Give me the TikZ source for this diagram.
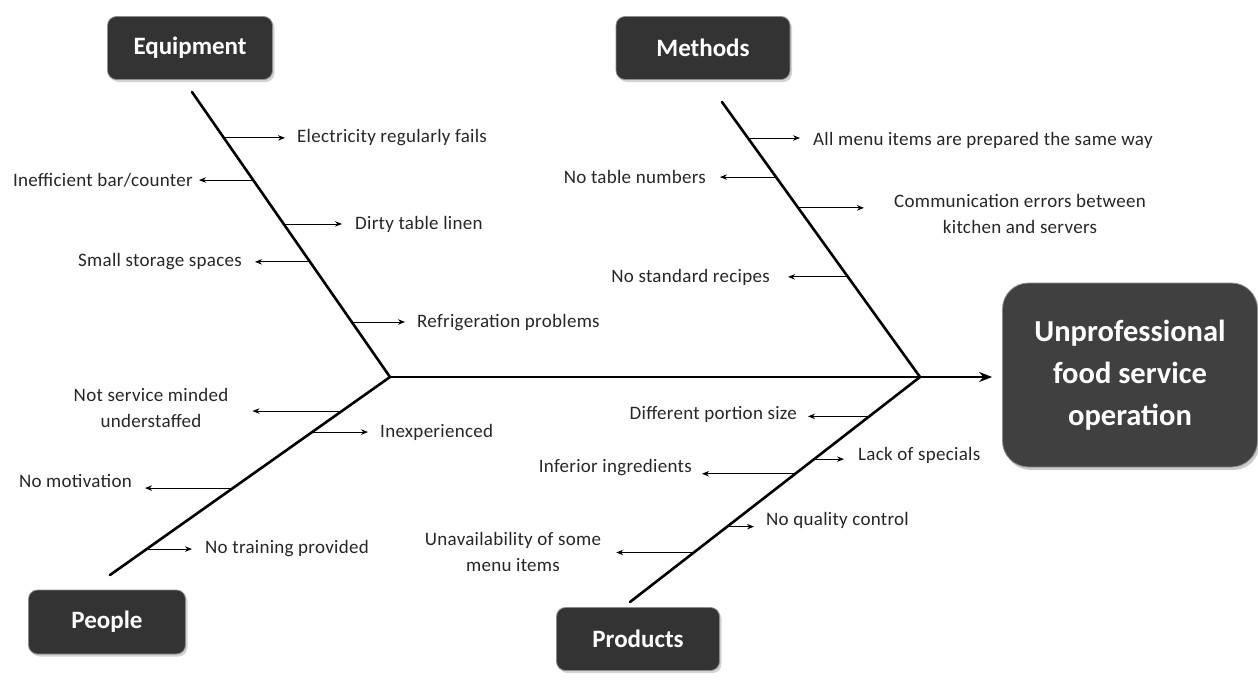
\documentclass[tikz,border=0pt]{standalone}
\usepackage{fontspec}
\setmainfont{Carlito}
\newfontfamily\lblfont[LetterSpace=1.5]{Carlito}
\usetikzlibrary{arrows.meta,calc,shadows}
\begin{document}
\begin{tikzpicture}[x=1pt,y=-1pt,
  cat/.style={rounded corners=9pt, fill=black!80, draw=black!45, line width=0.8pt,
    text=white, font=\bfseries\fontsize{25}{28}\selectfont,
    drop shadow={opacity=0.35, shadow xshift=2pt, shadow yshift=-2.5pt}},
  headbox/.style={rounded corners=26pt, fill=black!75, draw=black!45, line width=0.8pt,
    text=white, align=center, font=\bfseries\fontsize{30.5}{42}\selectfont,
    minimum width=255pt, minimum height=184pt,
    drop shadow={opacity=0.4, shadow xshift=2pt, shadow yshift=-3pt}},
  lbl/.style={font=\lblfont\fontsize{19}{26}\selectfont, inner sep=0pt, text=black!85},
  bone/.style={line width=2.6pt, line cap=round},
  sub/.style={line width=0.9pt, -{Stealth[length=7pt,width=5.5pt]}},
]
\useasboundingbox (0,0) rectangle (1258,686);

% category boxes and effect
\node[cat, minimum width=165pt, minimum height=63pt] (equip) at (190,48) {Equipment};
\node[cat, minimum width=174pt, minimum height=63pt] (meth) at (703,48) {Methods};
\node[cat, minimum width=157pt, minimum height=64pt] (people) at (107,622) {People};
\node[cat, minimum width=163pt, minimum height=63pt] (prod) at (638,639) {Products};
\node[headbox] (effect) at (1130,375) {Unprofessional\\food service\\operation};

% skeleton
\coordinate (J1) at (390,377);
\coordinate (J2) at (920,377);
\coordinate (eqTop) at (192,92);
\coordinate (mTop) at (722,102);
\coordinate (pBot) at (110,575);
\coordinate (prBot) at (630,602);

\draw[bone, -{Stealth[length=13pt,width=10pt]}, shorten >=10pt] (J1) -- (J1 -| effect.west);
\draw[bone] (eqTop) -- (J1);
\draw[bone] (mTop) -- (J2);
\draw[bone] (J1) -- (pBot);
\draw[bone] (J2) -- (prBot);

% Equipment causes
\coordinate (e1) at ($(eqTop)!0.161!(J1)$);
\coordinate (e2) at ($(eqTop)!0.309!(J1)$);
\coordinate (e3) at ($(eqTop)!0.463!(J1)$);
\coordinate (e4) at ($(eqTop)!0.596!(J1)$);
\coordinate (e5) at ($(eqTop)!0.807!(J1)$);
\node[lbl, anchor=west] (te1) at (297,138) {Electricity regularly fails};
\node[lbl, anchor=east] (te2) at (193,180) {Inefficient bar/counter};
\node[lbl, anchor=west] (te3) at (355,224) {Dirty table linen};
\node[lbl, anchor=east] (te4) at (242,262) {Small storage spaces};
\node[lbl, anchor=west] (te5) at (417,323) {Refrigeration problems};
\draw[sub] (e1) -- ($(e1 -| te1.west)+(-12,0)$);
\draw[sub] (e2) -- ($(e2 -| te2.east)+(6,0)$);
\draw[sub] (e3) -- ($(e3 -| te3.west)+(-13,0)$);
\draw[sub] (e4) -- ($(e4 -| te4.east)+(13,0)$);
\draw[sub] (e5) -- ($(e5 -| te5.west)+(-12,0)$);

% Methods causes
\coordinate (m1) at ($(mTop)!0.131!(J2)$);
\coordinate (m2) at ($(mTop)!0.273!(J2)$);
\coordinate (m3) at ($(mTop)!0.385!(J2)$);
\coordinate (m4) at ($(mTop)!0.636!(J2)$);
\node[lbl, anchor=west] (tm1) at (813,140) {All menu items are prepared the same way};
\node[lbl, anchor=east] (tm2) at (706,177) {No table numbers};
\node[lbl, align=center] (tm3) at (1020,214) {Communication errors between\\kitchen and servers};
\node[lbl, anchor=east] (tm4) at (770,277) {No standard recipes};
\draw[sub] (m1) -- ($(m1 -| tm1.west)+(-13,0)$);
\draw[sub] (m2) -- ($(m2 -| tm2.east)+(14,0)$);
\draw[sub] (m3) -- ($(m3 -| tm3.west)+(-30,0)$);
\draw[sub] (m4) -- ($(m4 -| tm4.east)+(18,0)$);

% People causes
\coordinate (p1) at ($(J1)!0.172!(pBot)$);
\coordinate (p2) at ($(J1)!0.278!(pBot)$);
\coordinate (p3) at ($(J1)!0.561!(pBot)$);
\coordinate (p4) at ($(J1)!0.869!(pBot)$);
\node[lbl, align=center] (tp1) at (151,408) {Not service minded\\understaffed};
\node[lbl, anchor=west] (tp2) at (380,432) {Inexperienced};
\node[lbl, anchor=east] (tp3) at (132,481) {No motivation};
\node[lbl, anchor=west] (tp4) at (205,549) {No training provided};
\draw[sub] (p1) -- ($(p1 -| tp1.east)+(24,0)$);
\draw[sub] (p2) -- ($(p2 -| tp2.west)+(-12,0)$);
\draw[sub] (p3) -- ($(p3 -| tp3.east)+(13,0)$);
\draw[sub] (p4) -- ($(p4 -| tp4.west)+(-13,0)$);

% Products causes
\coordinate (r1) at ($(J2)!0.175!(prBot)$);
\coordinate (r2) at ($(J2)!0.365!(prBot)$);
\coordinate (r3) at ($(J2)!0.43!(prBot)$);
\coordinate (r4) at ($(J2)!0.665!(prBot)$);
\coordinate (r5) at ($(J2)!0.78!(prBot)$);
\node[lbl, anchor=east] (tr1) at (797,414) {Different portion size};
\node[lbl, anchor=west] (tr2) at (858,455) {Lack of specials};
\node[lbl, anchor=east] (tr3) at (692,468) {Inferior ingredients};
\node[lbl, anchor=west] (tr4) at (766,520) {No quality control};
\node[lbl, align=center] (tr5) at (513,552) {Unavailability of some\\menu items};
\draw[sub] (r1) -- ($(r1 -| tr1.east)+(11,0)$);
\draw[sub] (r2) -- ($(r2 -| tr2.west)+(-14,0)$);
\draw[sub] (r3) -- ($(r3 -| tr3.east)+(10,0)$);
\draw[sub] (r4) -- ($(r4 -| tr4.west)+(-12,0)$);
\draw[sub] (r5) -- ($(r5 -| tr5.east)+(15,0)$);
\end{tikzpicture}
\end{document}
